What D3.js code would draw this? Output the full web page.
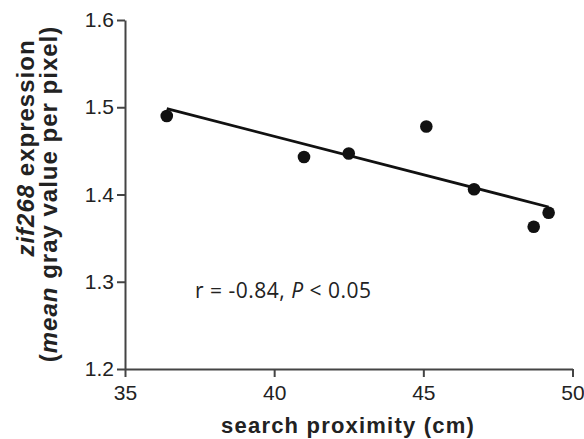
<!DOCTYPE html>
<html>
<head>
<meta charset="utf-8">
<title>zif268 vs search proximity</title>
<style>
  body{margin:0;background:#fff;}
  svg{display:block;}
  .axis text{font-family:"Liberation Sans",Arial,sans-serif;font-size:21px;fill:#222;}
  .axis path,.axis line{stroke:#444;stroke-width:2;}
  .title{font-family:"Liberation Sans",Arial,sans-serif;font-weight:bold;fill:#222;}
</style>
</head>
<body>
<div id="chart"></div>
<script src="https://d3js.org/d3.v7.min.js"></script>
<script>
// data
var proximity = [36.4, 41.0, 42.5, 45.1, 46.7, 48.7, 49.2];   // cm
var zif268    = [1.490, 1.443, 1.447, 1.478, 1.406, 1.363, 1.379];
var xTicks = [35, 40, 45, 50];
var yTicks = [1.2, 1.3, 1.4, 1.5, 1.6];

var width = 584, height = 439;

var svg = d3.select("#chart").append("svg")
    .attr("width", width)
    .attr("height", height);

var x = d3.scaleLinear().domain([35, 50]).range([125, 572.5]);
var y = d3.scaleLinear().domain([1.2, 1.6]).range([369, 20]);

// axes
svg.append("g")
    .attr("class", "axis")
    .attr("transform", "translate(0," + y(1.2) + ")")
    .call(d3.axisBottom(x).tickValues(xTicks).tickSize(8).tickSizeOuter(0).tickPadding(8));

svg.append("g")
    .attr("class", "axis")
    .attr("transform", "translate(" + x(35) + ",0)")
    .call(d3.axisLeft(y).tickValues(yTicks).tickSize(8).tickSizeOuter(0).tickPadding(3)
        .tickFormat(d3.format(".1f")));

// least squares fit
var mx = d3.mean(proximity), my = d3.mean(zif268);
var sxy = d3.sum(proximity, function(d, i){ return (d - mx) * (zif268[i] - my); });
var sxx = d3.sum(proximity, function(d){ return (d - mx) * (d - mx); });
var slope = sxy / sxx, icpt = my - slope * mx;
var ext = d3.extent(proximity);

svg.append("line")
    .attr("x1", x(ext[0])).attr("y1", y(icpt + slope * ext[0]))
    .attr("x2", x(ext[1])).attr("y2", y(icpt + slope * ext[1]))
    .attr("stroke", "#111")
    .attr("stroke-width", 2.8);

// points
svg.selectAll(".dot")
    .data(proximity)
    .enter().append("circle")
    .attr("class", "dot")
    .attr("cx", function(d){ return x(d); })
    .attr("cy", function(d, i){ return y(zif268[i]); })
    .attr("r", 6.3)
    .attr("fill", "#111");

// stats note
var note = svg.append("text")
    .attr("x", 195).attr("y", 298)
    .style("font-family", "'Open Sans', sans-serif")
    .style("font-size", "21px")
    .style("letter-spacing", "0.5px")
    .style("fill", "#222");
note.append("tspan").text("r = -0.84, ");
note.append("tspan").style("font-style", "italic").text("P");
note.append("tspan").text(" < 0.05");

// x title
svg.append("text")
    .attr("class", "title")
    .attr("x", 348).attr("y", 433)
    .attr("text-anchor", "middle")
    .style("font-size", "22px")
    .style("letter-spacing", "1.2px")
    .text("search proximity (cm)");

// y title, two lines
var l1 = svg.append("text").attr("class", "title")
    .attr("transform", "translate(34,148) rotate(-90)")
    .attr("text-anchor", "middle")
    .style("font-size", "24px")
    .style("letter-spacing", "1px");
l1.append("tspan").style("font-style", "italic").text("zif268");
l1.append("tspan").text(" expression");
var l2 = svg.append("text").attr("class", "title")
    .attr("transform", "translate(57,194) rotate(-90)")
    .attr("text-anchor", "middle")
    .style("font-size", "24px")
    .style("letter-spacing", "1px");
l2.append("tspan").text("(");
l2.append("tspan").style("font-style", "italic").text("mean");
l2.append("tspan").text(" gray value per pixel)");
</script>
</body>
</html>
